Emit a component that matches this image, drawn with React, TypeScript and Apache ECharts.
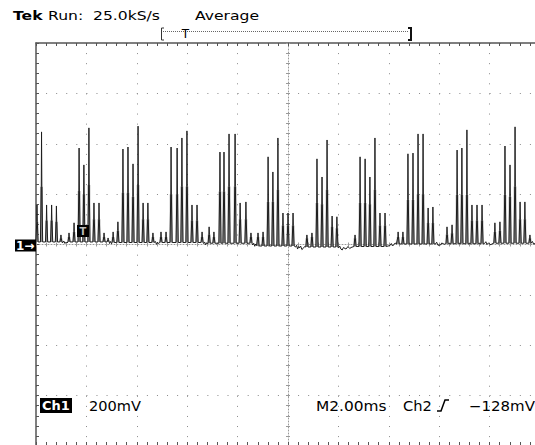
import React, { useEffect, useRef } from "react";
import * as echarts from "echarts";

// ---- scope settings ----
const X_MIN = -10; // ms relative to screen centre (2.00 ms/div, 10 div)
const X_MAX = 10;
const X_STEP = 2;
const Y_MIN = -800; // mV (200 mV/div, 8 div)
const Y_MAX = 800;
const Y_STEP = 200;

// ---- header / footer texts ----
const titleText = "Tek";
const runText = "Run:";
const rateText = "25.0kS/s";
const modeText = "Average";
const ch1Text = "Ch1";
const voltsText = "200mV";
const timeText = "M2.00ms";
const trigSrcText = "Ch2";
const trigLevelText = "\u2212128mV";

// ---- trace: bursts of spikes [time ms, peak mV, shoulder mV] ----
const burst1 = [[-9.96, 157, 90], [-9.78, 447, 229], [-9.58, 157, 95], [-9.38, 157, 95], [-9.19, 153, 90], [-9.01, 38, 25]];
const burst2 = [[-8.69, 46, 30], [-8.49, 86, 50], [-8.29, 383, 212], [-8.1, 316, 200], [-7.9, 463, 236], [-7.7, 165, 100], [-7.5, 165, 100], [-7.3, 46, 30], [-7.14, 26, 18]];
const burst3 = [[-6.94, 50, 30], [-6.75, 90, 55], [-6.55, 379, 205], [-6.35, 387, 205], [-6.15, 320, 190], [-5.95, 470, 236], [-5.75, 165, 100], [-5.56, 165, 100], [-5.36, 46, 30]];
const burst4 = [[-5.04, 50, 30], [-4.84, 50, 30], [-4.64, 387, 200], [-4.4, 383, 200], [-4.21, 423, 230], [-4.01, 451, 230], [-3.81, 157, 95], [-3.61, 157, 95], [-3.41, 50, 30]];
const burst5 = [[-3.13, 70, 40], [-2.94, 50, 30], [-2.7, 367, 210], [-2.54, 367, 210], [-2.34, 439, 230], [-2.1, 439, 230], [-1.9, 165, 100], [-1.67, 169, 100], [-1.47, 46, 30]];
const burst6 = [[-1.19, 46, 30], [-0.99, 50, 30], [-0.79, 348, 169], [-0.6, 288, 170], [-0.4, 423, 217], [-0.2, 125, 75], [0.0, 125, 75], [0.2, 125, 75]];
const burst7 = [[0.75, 38, 25], [0.95, 46, 30], [1.15, 340, 165], [1.35, 268, 160], [1.55, 415, 217], [1.75, 113, 70], [1.94, 110, 65]];
const burst8 = [[2.66, 38, 25], [2.86, 348, 165], [3.06, 340, 165], [3.25, 268, 160], [3.45, 423, 217], [3.65, 125, 75], [3.85, 125, 75]];
const burst9 = [[4.37, 50, 30], [4.56, 50, 30], [4.76, 360, 177], [4.96, 363, 177], [5.16, 439, 200], [5.36, 439, 200], [5.56, 145, 85], [5.75, 149, 85]];
const burst10 = [[6.31, 70, 40], [6.51, 78, 45], [6.71, 375, 197], [6.9, 383, 197], [7.1, 455, 197], [7.3, 157, 95], [7.5, 157, 95], [7.7, 157, 95]];
const burst11 = [[8.21, 86, 50], [8.41, 90, 55], [8.61, 391, 197], [8.81, 316, 190], [9.01, 467, 230], [9.21, 169, 100], [9.4, 169, 100], [9.6, 38, 25]];
const bursts = [burst1, burst2, burst3, burst4, burst5, burst6, burst7, burst8, burst9, burst10, burst11];
const burstBase = [10, 10, 8, 8, 5, -6, -10, -8, 2, 3, 5];

// baseline between bursts [time ms, mV]
const baseline = [
  [-10, 8], [-8.95, 6], [-8.9, 14], [-8.85, 4], [-8.8, 10], [-8.76, 6],
  [-7.08, 4], [-7.04, 12], [-7.0, 3], [-6.98, 8],
  [-5.3, 6], [-5.26, 12], [-5.22, 1], [-5.18, 9], [-5.15, 4],
  [-3.35, 4], [-3.31, 10], [-3.27, -1], [-3.23, 7], [-3.2, 2],
  [-1.4, -2], [-1.36, 5], [-1.32, -7], [-1.28, 2], [-1.25, -4],
  [0.3, -10], [0.34, -3], [0.38, -18], [0.42, -8], [0.45, -14], [0.5, -6], [0.55, -20], [0.6, -16], [0.66, -8],
  [2.0, -14], [2.05, -6], [2.1, -18], [2.15, -22], [2.2, -12], [2.3, -18], [2.38, -8], [2.45, -16], [2.5, -12],
  [4.05, -4], [4.1, 4], [4.15, -6], [4.2, -1], [4.25, 6], [4.3, 2],
  [5.85, 2], [5.9, 9], [5.95, -3], [6.05, -2], [6.1, 6], [6.2, 1],
  [7.8, 4], [7.85, 11], [7.9, 0], [7.95, 6], [8.05, -1], [8.1, 3],
  [9.66, 6], [9.7, 12], [9.75, 1], [9.85, 8], [9.92, 2], [10, 5],
];

function buildNeedles() {
  const pts: any[] = [];
  bursts.forEach((b, i) => {
    const base = burstBase[i];
    b.forEach(([t, p, s]) => {
      pts.push([t - 0.045, base], [t - 0.01, s], [t, p], [t + 0.012, s], [t + 0.045, base]);
    });
  });
  baseline.forEach((p) => pts.push(p));
  pts.sort((a, b) => a[0] - b[0]);
  return pts;
}

function buildBodies() {
  const pts: any[] = [];
  bursts.forEach((b, i) => {
    const base = burstBase[i];
    b.forEach(([t, , s]) => {
      pts.push([t, base], [t, s], [t, "-"]);
    });
  });
  return pts;
}

const FONT = '"DejaVu Sans", Verdana, sans-serif';
const BORDER = "#555";
const DOTS = "#8a8a8a";
const CENTRE = "#9a9a9a";

const hidden = { show: false };

function xAxisBase(extra: any) {
  return {
    type: "value", min: X_MIN, max: X_MAX, interval: X_STEP,
    axisLabel: hidden, splitLine: hidden, axisTick: hidden,
    axisLine: { show: false, onZero: false },
    ...extra,
  };
}
function yAxisBase(extra: any) {
  return {
    type: "value", min: Y_MIN, max: Y_MAX, interval: Y_STEP,
    axisLabel: hidden, splitLine: hidden, axisTick: hidden,
    axisLine: { show: false, onZero: false },
    ...extra,
  };
}

function txt(text: string, x: number, y: number, size: number, opts: any = {}) {
  return {
    type: "text", x, y, scaleX: opts.scaleX ?? 1, z: 100,
    style: {
      text, fill: opts.fill ?? "#000", fontSize: size, fontFamily: FONT,
      fontWeight: opts.bold ? "bold" : "normal", align: opts.align ?? "left", verticalAlign: "middle",
    },
  };
}

export default function App() {
  const ref = useRef<HTMLDivElement>(null);
  useEffect(() => {
    const chart = echarts.init(ref.current!, null, { renderer: "svg", width: 535, height: 445 });
    const option: any = {
      animation: false,
      backgroundColor: "#fff",
      grid: { left: 36, top: 43, width: 504, height: 403, outerBoundsMode: "none", containLabel: false },
      xAxis: [
        // main dotted graticule
        xAxisBase({ position: "bottom", splitLine: { show: true, lineStyle: { color: DOTS, width: 1, type: [1, 9.08] } } }),
        // top border
        xAxisBase({
          position: "top",
          axisLine: { show: true, onZero: false, lineStyle: { color: BORDER, width: 1.5 } },
          axisTick: { show: true, inside: true, length: 3, lineStyle: { color: BORDER } },
          minorTick: { show: true, splitNumber: 5, length: 3, lineStyle: { color: BORDER } },
        }),
        // bottom border
        xAxisBase({
          position: "bottom",
          axisLine: { show: true, onZero: false, lineStyle: { color: BORDER, width: 1.5 } },
          axisTick: { show: true, inside: true, length: 4, lineStyle: { color: BORDER } },
          minorTick: { show: true, splitNumber: 5, length: 4, lineStyle: { color: BORDER } },
        }),
        // centre horizontal line (ground level) + ticks up
        xAxisBase({
          position: "bottom",
          axisLine: { show: true, onZero: true, onZeroAxisIndex: 0, lineStyle: { color: CENTRE, width: 1, type: [1, 2] } },
          axisTick: { show: true, inside: true, length: 2, lineStyle: { color: CENTRE } },
          minorTick: { show: true, splitNumber: 5, length: 2, lineStyle: { color: CENTRE } },
        }),
        // centre horizontal ticks down
        xAxisBase({
          position: "bottom",
          axisLine: { show: false, onZero: true, onZeroAxisIndex: 0 },
          axisTick: { show: true, inside: false, length: 2, lineStyle: { color: CENTRE } },
          minorTick: { show: true, splitNumber: 5, length: 2, lineStyle: { color: CENTRE } },
        }),
      ],
      yAxis: [
        yAxisBase({ position: "left", splitLine: { show: true, lineStyle: { color: DOTS, width: 1, type: [1, 9.08] } } }),
        yAxisBase({
          position: "left",
          axisLine: { show: true, onZero: false, lineStyle: { color: BORDER, width: 1.5 } },
          axisTick: { show: true, inside: true, length: 3, lineStyle: { color: BORDER } },
          minorTick: { show: true, splitNumber: 5, length: 3, lineStyle: { color: BORDER } },
        }),
        yAxisBase({
          position: "right",
          axisLine: { show: true, onZero: false, lineStyle: { color: BORDER, width: 1.5 } },
          axisTick: { show: true, inside: true, length: 3, lineStyle: { color: BORDER } },
          minorTick: { show: true, splitNumber: 5, length: 3, lineStyle: { color: BORDER } },
        }),
        yAxisBase({
          position: "left",
          axisLine: { show: true, onZero: true, onZeroAxisIndex: 0, lineStyle: { color: CENTRE, width: 1, type: [1, 2] } },
          axisTick: { show: true, inside: true, length: 2, lineStyle: { color: CENTRE } },
          minorTick: { show: true, splitNumber: 5, length: 2, lineStyle: { color: CENTRE } },
        }),
        yAxisBase({
          position: "left",
          axisLine: { show: false, onZero: true, onZeroAxisIndex: 0 },
          axisTick: { show: true, inside: false, length: 2, lineStyle: { color: CENTRE } },
          minorTick: { show: true, splitNumber: 5, length: 2, lineStyle: { color: CENTRE } },
        }),
      ],
      series: [
        {
          type: "line",
          name: "body",
          xAxisIndex: 0,
          yAxisIndex: 0,
          data: buildBodies(),
          connectNulls: false,
          showSymbol: false,
          symbol: "none",
          lineStyle: { color: "#8c8c8c", width: 2.6, cap: "butt" },
          z: 9,
        },
        {
          type: "line",
          name: "trace",
          xAxisIndex: 0,
          yAxisIndex: 0,
          data: buildNeedles(),
          showSymbol: false,
          symbol: "none",
          lineStyle: { color: "#1e1e1e", width: 1 },
          z: 10,
        },
      ],
      graphic: [
        // header
        txt(titleText, 13, 15, 13, { bold: true, scaleX: 1.2 }),
        txt(runText, 48, 15, 13, { scaleX: 1.2 }),
        txt(rateText, 93, 15, 13, { scaleX: 1.2 }),
        txt(modeText, 195, 15, 13, { scaleX: 1.2 }),
        // record window bracket
        { type: "line", z: 100, shape: { x1: 163, y1: 31.5, x2: 409, y2: 31.5 }, style: { stroke: "#666", lineWidth: 1, lineDash: [1, 1] } },
        { type: "polyline", z: 100, shape: { points: [[164, 28], [161.5, 28], [161.5, 40], [164, 40]] }, style: { stroke: "#333", lineWidth: 1, fill: "none" } },
        { type: "polyline", z: 100, shape: { points: [[408, 28], [411, 28], [411, 40], [408, 40]] }, style: { stroke: "#111", lineWidth: 2, fill: "none" } },
        txt("T", 185.5, 33.5, 12, { align: "center" }),
        // channel 1 ground marker
        { type: "rect", z: 100, shape: { x: 15, y: 239.5, width: 21, height: 12 }, style: { fill: "#000" } },
        txt("1\u2192", 16, 245.6, 12, { bold: true, fill: "#fff" }),
        // trigger marker on trace
        { type: "rect", z: 100, shape: { x: 77, y: 225, width: 12, height: 12 }, style: { fill: "#000" } },
        txt("T", 83, 231.5, 10, { fill: "#bbb", align: "center", bold: true }),
        // footer
        { type: "rect", z: 100, shape: { x: 40, y: 398, width: 32, height: 15 }, style: { fill: "#000" } },
        txt(ch1Text, 42, 405.8, 13, { bold: true, fill: "#fff" }),
        txt(voltsText, 89, 405.8, 14, { scaleX: 1.04 }),
        txt(timeText, 316, 405.8, 14, { scaleX: 1.1 }),
        txt(trigSrcText, 403, 405.8, 14, { scaleX: 1.05 }),
        { type: "polyline", z: 100, shape: { points: [[437, 411], [441, 411], [445, 400], [449, 400]] }, style: { stroke: "#000", lineWidth: 1.5, fill: "none" } },
        txt(trigLevelText, 469, 405.8, 14, { scaleX: 1.07 }),
      ],
    };
    chart.setOption(option);
    return () => chart.dispose();
  }, []);
  return (
    <div
      ref={ref}
      style={{ position: "fixed", left: 0, top: 0, width: 535, height: 445, background: "#fff" }}
    />
  );
}
